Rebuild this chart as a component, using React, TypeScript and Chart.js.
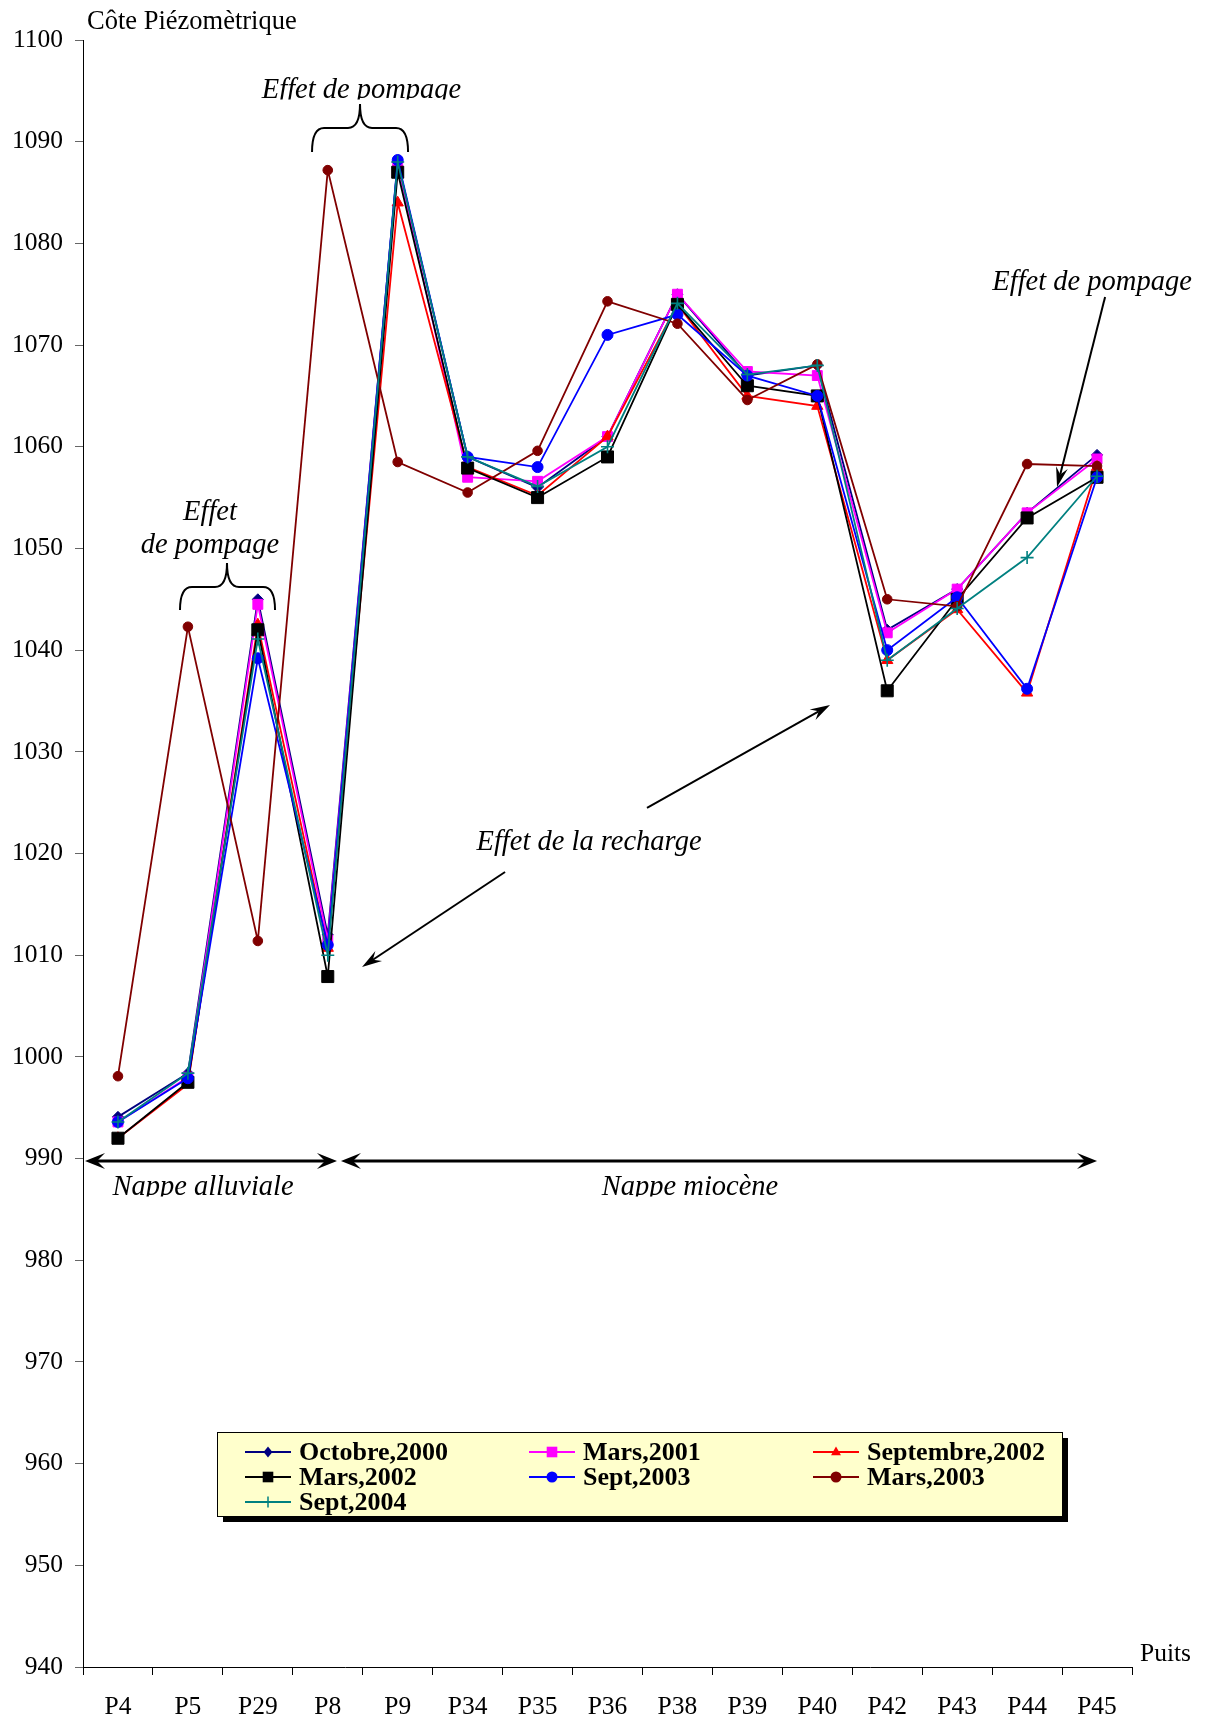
import React, { useEffect, useRef } from 'react';
import { Chart, registerables } from 'chart.js';

Chart.register(...registerables);

// ---------- data ----------
const wells = ['P4', 'P5', 'P29', 'P8', 'P9', 'P34', 'P35', 'P36', 'P38', 'P39', 'P40', 'P42', 'P43', 'P44', 'P45'];
const yTicks = [940, 950, 960, 970, 980, 990, 1000, 1010, 1020, 1030, 1040, 1050, 1060, 1070, 1080, 1090, 1100];

const octobre2000 = [994.1, 998.4, 1045, 1012, 1088, 1059, 1056, 1061, 1075, 1067, 1068, 1042, 1046, 1053.5, 1059.2];
const mars2001 = [993.6, 998, 1044.5, 1011.5, 1087.7, 1057, 1056.6, 1061, 1075, 1067.4, 1067, 1041.7, 1046, 1053.5, 1058.8];
const septembre2002 = [992, 997.3, 1042.5, 1010.7, 1084, 1058, 1055.2, 1061, 1074, 1065, 1064, 1039, 1044, 1035.8, 1058];
const mars2002 = [992, 997.5, 1042, 1007.9, 1087, 1057.9, 1055, 1059, 1074, 1066, 1065, 1036, 1045, 1053, 1057];
const sept2003 = [993.6, 997.9, 1039.2, 1011, 1088.2, 1059, 1058, 1071, 1073, 1067, 1065, 1040, 1045.2, 1036.2, 1057];
const mars2003 = [998.1, 1042.3, 1011.4, 1087.2, 1058.5, 1055.5, 1059.6, 1074.3, 1072.1, 1064.6, 1068.1, 1045, 1044.3, 1058.3, 1058.1];
const sept2004 = [993.6, 998.4, 1041.1, 1010, 1088, 1059, 1056.1, 1060, 1074.1, 1067.1, 1068, 1039, 1044.1, 1049.1, 1057.1];

const seriesLabels = ['Octobre,2000', 'Mars,2001', 'Septembre,2002', 'Mars,2002', 'Sept,2003', 'Mars,2003', 'Sept,2004'];
const seriesData = [octobre2000, mars2001, septembre2002, mars2002, sept2003, mars2003, sept2004];
const seriesColors = ['#000080', '#FF00FF', '#FF0000', '#000000', '#0000FF', '#800000', '#008080'];
const seriesStyles = ['rectRot', 'rect', 'triangle', 'rect', 'circle', 'circle', 'cross'];
const seriesRadius = [5.5, 7, 6.5, 8.5, 5.5, 4.8, 6.5];

const SERIF = "'Liberation Serif', 'Times New Roman', serif";

function drawMarker(ctx: CanvasRenderingContext2D, style: string, x: number, y: number, r: number, color: string) {
  ctx.save();
  ctx.fillStyle = color;
  ctx.strokeStyle = color;
  ctx.lineWidth = 1.5;
  ctx.beginPath();
  if (style === 'circle') {
    ctx.arc(x, y, r, 0, Math.PI * 2);
    ctx.fill();
  } else if (style === 'rect') {
    const s = r * Math.SQRT1_2;
    ctx.rect(x - s, y - s, 2 * s, 2 * s);
    ctx.fill();
  } else if (style === 'rectRot') {
    ctx.moveTo(x, y - r);
    ctx.lineTo(x + r * 0.8, y);
    ctx.lineTo(x, y + r);
    ctx.lineTo(x - r * 0.8, y);
    ctx.closePath();
    ctx.fill();
  } else if (style === 'triangle') {
    ctx.moveTo(x, y - r);
    ctx.lineTo(x + r * 0.9, y + r * 0.6);
    ctx.lineTo(x - r * 0.9, y + r * 0.6);
    ctx.closePath();
    ctx.fill();
  } else if (style === 'cross') {
    ctx.moveTo(x - r, y);
    ctx.lineTo(x + r, y);
    ctx.moveTo(x, y - r);
    ctx.lineTo(x, y + r);
    ctx.stroke();
  }
  ctx.restore();
}

function arrowHead(ctx: CanvasRenderingContext2D, x1: number, y1: number, x2: number, y2: number, len: number, half: number, notch: number) {
  const a = Math.atan2(y2 - y1, x2 - x1);
  const c = Math.cos(a);
  const s = Math.sin(a);
  ctx.beginPath();
  ctx.moveTo(x2, y2);
  ctx.lineTo(x2 - len * c + half * s, y2 - len * s - half * c);
  ctx.lineTo(x2 - notch * c, y2 - notch * s);
  ctx.lineTo(x2 - len * c - half * s, y2 - len * s + half * c);
  ctx.closePath();
  ctx.fill();
}

function arrow(ctx: CanvasRenderingContext2D, x1: number, y1: number, x2: number, y2: number, lw: number, both: boolean, len: number, half: number, notch: number) {
  ctx.save();
  ctx.strokeStyle = '#000';
  ctx.fillStyle = '#000';
  ctx.lineWidth = lw;
  const a = Math.atan2(y2 - y1, x2 - x1);
  const c = Math.cos(a);
  const s = Math.sin(a);
  ctx.beginPath();
  ctx.moveTo(both ? x1 + notch * c : x1, both ? y1 + notch * s : y1);
  ctx.lineTo(x2 - notch * c, y2 - notch * s);
  ctx.stroke();
  arrowHead(ctx, x1, y1, x2, y2, len, half, notch);
  if (both) arrowHead(ctx, x2, y2, x1, y1, len, half, notch);
  ctx.restore();
}

function brace(ctx: CanvasRenderingContext2D, x1: number, x2: number, xc: number, yTip: number, yMid: number, yEnd: number) {
  const r = Math.min(12, (yEnd - yMid));
  ctx.save();
  ctx.strokeStyle = '#000';
  ctx.lineWidth = 2;
  ctx.beginPath();
  ctx.moveTo(x1, yEnd);
  ctx.quadraticCurveTo(x1, yMid, x1 + r, yMid);
  ctx.lineTo(xc - r, yMid);
  ctx.quadraticCurveTo(xc, yMid, xc, yTip);
  ctx.quadraticCurveTo(xc, yMid, xc + r, yMid);
  ctx.lineTo(x2 - r, yMid);
  ctx.quadraticCurveTo(x2, yMid, x2, yEnd);
  ctx.stroke();
  ctx.restore();
}

function text(ctx: CanvasRenderingContext2D, str: string, x: number, y: number, font: string, align: CanvasTextAlign, clipBase: boolean) {
  ctx.save();
  ctx.font = font;
  ctx.fillStyle = '#000';
  ctx.textAlign = align;
  ctx.textBaseline = 'alphabetic';
  if (clipBase) {
    ctx.beginPath();
    ctx.rect(0, 0, 2000, y + 1.5);
    ctx.clip();
  }
  ctx.fillText(str, x, y);
  ctx.restore();
}

const decorPlugin = {
  id: 'decor',
  afterDraw(chart: any) {
    const ctx: CanvasRenderingContext2D = chart.ctx;
    const xs = chart.scales.x;
    const ys = chart.scales.y;
    const X = (i: number) => xs.getPixelForValue(i);
    const Y = (v: number) => ys.getPixelForValue(v);
    const area = chart.chartArea;
    const ital = `italic 28.5px ${SERIF}`;

    // axis titles
    text(ctx, 'Côte Piézomètrique', area.left + 4, area.top - 11, `26.5px ${SERIF}`, 'left', false);
    text(ctx, 'Puits', area.right + 8, area.bottom - 6, `25.5px ${SERIF}`, 'left', false);

    // top "Effet de pompage" with brace
    text(ctx, 'Effet de pompage', X(3.483), Y(1094.3), ital, 'center', true);
    brace(ctx, X(2.775), X(4.148), X(3.461), Y(1093.7), Y(1091.35), Y(1088.99));

    // left "Effet / de pompage" with brace
    text(ctx, 'Effet', X(1.316), Y(1052.8), ital, 'center', false);
    text(ctx, 'de pompage', X(1.316), Y(1049.55), ital, 'center', false);
    brace(ctx, X(0.887), X(2.246), X(1.559), Y(1048.57), Y(1046.21), Y(1043.95));

    // right "Effet de pompage" with arrow
    text(ctx, 'Effet de pompage', X(13.929), Y(1075.42), ital, 'center', false);
    arrow(ctx, X(14.115), Y(1074.73), X(13.428), Y(1056.04), 2, false, 20, 6, 13);

    // "Effet de la recharge" with two arrows
    text(ctx, 'Effet de la recharge', X(6.736), Y(1020.35), ital, 'center', false);
    arrow(ctx, X(5.535), Y(1018.18), X(3.49), Y(1008.84), 2, false, 20, 6, 13);
    arrow(ctx, X(7.565), Y(1024.48), X(10.182), Y(1034.61), 2, false, 20, 6, 13);

    // aquifer arrows
    arrow(ctx, X(-0.471), Y(989.76), X(3.132), Y(989.76), 3, true, 20, 8, 12);
    arrow(ctx, X(3.189), Y(989.76), X(14.0), Y(989.76), 3, true, 20, 8, 12);
    text(ctx, 'Nappe alluviale', X(1.216), Y(986.42), ital, 'center', true);
    text(ctx, 'Nappe miocène', X(8.18), Y(986.42), ital, 'center', true);

    // legend box
    const bx = 217, by = 1432, bw = 845, bh = 84;
    ctx.save();
    ctx.fillStyle = '#000';
    ctx.fillRect(bx + 6, by + 6, bw, bh);
    ctx.fillStyle = '#FFFFCC';
    ctx.fillRect(bx, by, bw, bh);
    ctx.strokeStyle = '#000';
    ctx.lineWidth = 1;
    ctx.strokeRect(bx + 0.5, by + 0.5, bw, bh);
    ctx.restore();
    const colLine = [245, 529, 813];
    const rowY = [1452, 1477, 1502];
    seriesLabels.forEach((lab, k) => {
      const col = k % 3;
      const row = Math.floor(k / 3);
      const lx = colLine[col];
      const ly = rowY[row];
      ctx.save();
      ctx.strokeStyle = seriesColors[k];
      ctx.lineWidth = 2;
      ctx.beginPath();
      ctx.moveTo(lx, ly);
      ctx.lineTo(lx + 46, ly);
      ctx.stroke();
      ctx.restore();
      drawMarker(ctx, seriesStyles[k], lx + 23, ly, seriesStyles[k] === 'rect' ? 7.5 : 5.5, seriesColors[k]);
      ctx.save();
      ctx.font = `bold 26px ${SERIF}`;
      ctx.fillStyle = '#000';
      ctx.textAlign = 'left';
      ctx.textBaseline = 'middle';
      ctx.fillText(lab, lx + 54, ly + 1);
      ctx.restore();
    });
  },
};

export default function App() {
  const ref = useRef<HTMLCanvasElement>(null);
  useEffect(() => {
    const datasets = seriesLabels.map((lab, k) => ({
      label: lab,
      data: seriesData[k],
      borderColor: seriesColors[k],
      backgroundColor: seriesColors[k],
      pointBackgroundColor: seriesColors[k],
      pointBorderColor: seriesColors[k],
      pointStyle: seriesStyles[k],
      pointRadius: seriesRadius[k],
      pointBorderWidth: seriesStyles[k] === 'cross' ? 1.6 : 1,
      borderWidth: 1.8,
      tension: 0,
      fill: false,
      order: seriesLabels.length - 1 - k,
    }));
    const chart = new Chart(ref.current as HTMLCanvasElement, {
      type: 'line',
      data: { labels: wells, datasets },
      options: {
        responsive: false,
        animation: false,
        devicePixelRatio: 1,
        layout: { padding: { top: 40, right: 75, bottom: 0, left: 0 } },
        plugins: { legend: { display: false }, tooltip: { enabled: false }, title: { display: false } },
        scales: {
          x: {
            type: 'category',
            offset: true,
            grid: { offset: true, drawOnChartArea: false, drawTicks: true, tickLength: 8, color: '#000', lineWidth: 1 },
            border: { display: true, color: '#000', width: 1 },
            ticks: { color: '#000', font: { family: SERIF, size: 25.5 }, padding: 17, maxRotation: 0, autoSkip: false },
            afterFit: (s: any) => { s.height = 63; },
          },
          y: {
            type: 'linear',
            min: yTicks[0],
            max: yTicks[yTicks.length - 1],
            afterBuildTicks: (s: any) => { s.ticks = yTicks.map((v) => ({ value: v })); },
            grid: { drawOnChartArea: false, drawTicks: true, tickLength: 8, color: '#666', lineWidth: 1 },
            border: { display: true, color: '#000', width: 1 },
            ticks: { color: '#000', font: { family: SERIF, size: 25.5 }, padding: 12, callback: (v: any) => String(v) },
            afterFit: (s: any) => { s.width = 83; },
          },
        },
      },
      plugins: [decorPlugin],
    } as any);
    return () => chart.destroy();
  }, []);
  return (
    <div style={{ position: 'absolute', left: 0, top: 0, width: 1207, height: 1730, background: '#fff' }}>
      <canvas ref={ref} width={1207} height={1730} style={{ display: 'block', width: 1207, height: 1730 }} />
    </div>
  );
}
